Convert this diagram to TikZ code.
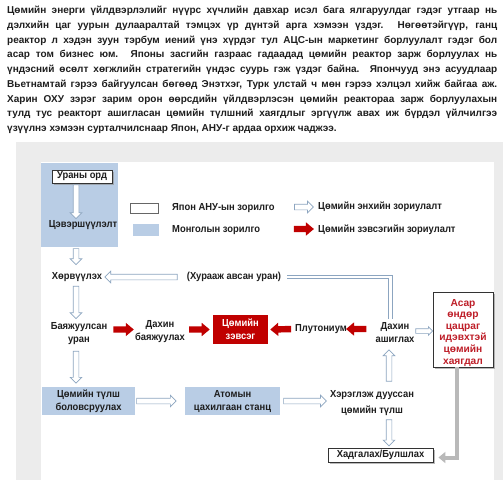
\documentclass[tikz,border=0pt]{standalone}
\usepackage{fontspec}
\setmainfont{Liberation Sans}
\newfontfamily\dfont[FakeStretch=0.92]{Liberation Sans}
\usetikzlibrary{shapes.arrows,shadows,calc,arrows.meta}
\definecolor{framegray}{RGB}{236,236,236}
\definecolor{bluec}{RGB}{185,205,229}
\definecolor{hline}{RGB}{140,165,192}
\definecolor{redc}{RGB}{192,0,0}
\definecolor{redt}{RGB}{190,30,40}
\definecolor{txt}{RGB}{30,30,30}
\newcommand\harrow[4]{%
  \path let \p1=(#3), \p2=(#4), \n1={atan2(\y2-\y1,\x2-\x1)}, \n2={veclen(\x2-\x1,\y2-\y1)} in
    node[#1, rotate=\n1, minimum height=\n2] (#2) at ($(\p1)!0.5!(\p2)$) {};}
\begin{document}
\begin{tikzpicture}[x=1pt,y=-1pt,
  dtext/.style={font=\dfont\bfseries\fontsize{10.2}{13}\selectfont, inner sep=0pt, align=center, text=txt},
  ptext/.style={font=\bfseries\fontsize{10}{11}\selectfont, inner sep=0pt, anchor=base west, text=txt},
  harrowsty/.style={single arrow, draw=hline, fill=white, line width=0.7pt, minimum width=0pt, text height=5pt, text depth=0pt, single arrow head extend=3pt, single arrow tip angle=90, inner sep=0pt},
  rarrowsty/.style={single arrow, fill=redc, draw=none, minimum width=0pt, text height=6pt, text depth=0pt, single arrow head extend=3.5pt, single arrow tip angle=80, inner sep=0pt},
  bluebox/.style={fill=bluec, inner sep=0pt},
  dline/.style={draw=hline, double=white, double distance=2.5pt, line width=0.8pt},
  gline/.style={draw=gray!55, line width=4pt, -{Triangle[length=7pt,width=11pt]}},
  shbox/.style={draw=black!80, line width=0.9pt, fill=white, inner sep=0pt, drop shadow={shadow xshift=1.5pt, shadow yshift=-1.5pt, fill=black!45, opacity=0.6}}
]
\useasboundingbox (0,0) rectangle (503,480);
\fill[white] (0,0) rectangle (503,480);
% paragraph
\node[ptext] (p1) at (7,13.5) {\makebox[490pt][s]{Цөмийн энерги үйлдвэрлэлийг нүүрс хүчлийн давхар исэл бага ялгаруулдаг гэдэг утгаар нь}};
\node[ptext] (p2) at (7,28.25) {\makebox[490pt][s]{дэлхийн цаг уурын дулааралтай тэмцэх үр дүнтэй арга хэмээн үздэг. Нөгөөтэйгүүр, ганц}};
\node[ptext] (p3) at (7,43) {\makebox[490pt][s]{реактор л хэдэн зуун тэрбум иений үнэ хүрдэг тул АЦС-ын маркетинг борлуулалт гэдэг бол}};
\node[ptext] (p4) at (7,57.75) {\makebox[490pt][s]{асар том бизнес юм. Японы засгийн газраас гадаадад цөмийн реактор зарж борлуулах нь}};
\node[ptext] (p5) at (7,72.5) {\makebox[490pt][s]{үндэсний өсөлт хөгжлийн стратегийн үндэс суурь гэж үздэг байна. Япончууд энэ асуудлаар}};
\node[ptext] (p6) at (7,87.25) {\makebox[490pt][s]{Вьетнамтай гэрээ байгуулсан бөгөөд Энэтхэг, Турк улстай ч мөн гэрээ хэлцэл хийж байгаа аж.}};
\node[ptext] (p7) at (7,102) {\makebox[490pt][s]{Харин ОХУ зэрэг зарим орон өөрсдийн үйлдвэрлэсэн цөмийн реактораа зарж борлуулахын}};
\node[ptext] (p8) at (7,116.75) {\makebox[490pt][s]{тулд тус реакторт ашигласан цөмийн түлшний хаягдлыг эргүүлж авах иж бүрдэл үйлчилгээ}};
\node[ptext] (p9) at (7,131.5) {үзүүлнэ хэмээн сурталчилснаар Япон, АНУ-г ардаа орхиж чаджээ.};
% frame
\fill[framegray] (16,142) rectangle (503,480);
\fill[white] (41,162) rectangle (494,480);
\coordinate (colA) at (76,0);
\coordinate (colB) at (389,0);
% Mongolian box
\node[bluebox, minimum width=77pt, minimum height=84pt] (mgbox) at (79.5,205) {};
\node[shbox, minimum width=60pt, minimum height=13pt, dtext] (ore) at (82,176.5) {Ураны орд};
\node[dtext] (pur) at (83,225) {Цэвэршүүлэлт};
% legend
\node[draw=black!60, fill=white, line width=0.8pt, minimum width=28pt, minimum height=10pt, inner sep=0pt] (lgw) at (144,208) {};
\node[bluebox, minimum width=26pt, minimum height=12pt] (lgb) at (146,230) {};
\node[dtext, anchor=west] (lgwt) at (172,208) {Япон АНУ-ын зорилго};
\node[dtext, anchor=west] (lgbt) at (172,230.5) {Монголын зорилго};
\coordinate (la1) at (293,207);
\coordinate (la2) at (312,207);
\coordinate (lr1) at (292,229);
\coordinate (lr2) at (312,229);
\harrow{harrowsty}{lgha}{la1}{la2}
\harrow{rarrowsty}{lgra}{lr1}{lr2}
\node[dtext, anchor=west] (lgat) at (318,207) {Цөмийн энхийн зориулалт};
\node[dtext, anchor=west] (lgrt) at (318,229.5) {Цөмийн зэвсэгийн зориулалт};
% main nodes
\node[dtext] (conv) at (77,277) {Хөрвүүлэх};
\node[dtext] (conf) at (234,277) {(Хурааж авсан уран)};
\node[dtext] (enr) at (79,333.5) {Баяжуулсан\\уран};
\node[dtext] (reenr) at (160,331.5) {Дахин\\баяжуулах};
\node[fill=redc, minimum width=55pt, minimum height=29pt, inner sep=0pt, dtext, text=white] (weapon) at (240.5,329.5) {Цөмийн\\зэвсэг};
\node[dtext] (plut) at (321,329) {Плутониум};
\node[dtext] (reuse) at (395,333) {Дахин\\ашиглах};
\node[shbox, minimum width=60pt, minimum height=75pt] (waste) at (463,329.5) {};
\node[inner sep=0pt, text=redt, align=center, font=\bfseries\fontsize{10.2}{11.6}\selectfont] (wastet) at (463,332.5) {Асар\\өндөр\\цацраг\\идэвхтэй\\цөмийн\\хаягдал};
\node[bluebox, minimum width=93pt, minimum height=28pt, dtext] (fuel) at (88.5,401) {Цөмийн түлш\\боловсруулах};
\node[bluebox, minimum width=95pt, minimum height=28pt, dtext] (npp) at (232.5,401) {Атомын\\цахилгаан станц};
\node[dtext, font=\dfont\bfseries\fontsize{10.2}{16}\selectfont] (spent) at (372,403.5) {Хэрэглэж дууссан\\цөмийн түлш};
\node[shbox, minimum width=105pt, minimum height=14pt, dtext] (store) at (380.5,455) {Хадгалах/Булшлах};
% hollow arrows
\harrow{harrowsty}{a1}{$(ore.south -| colA)$}{$(pur.north -| colA)+(0,-3)$}
\harrow{harrowsty}{a2}{$(mgbox.south -| colA)$}{$(conv.north -| colA)+(0,-9)$}
\harrow{harrowsty}{a3}{$(conf.west)+(-8,0)$}{$(conv.east)+(4,0)$}
\harrow{harrowsty}{a4}{$(conv.south -| colA)+(0,3)$}{$(enr.north -| colA)+(0,-5)$}
\harrow{harrowsty}{a5}{$(enr.south -| colA)+(0,5)$}{$(fuel.north -| colA)+(0,-5)$}
\harrow{harrowsty}{a6}{fuel.east}{$(npp.west)+(-10,0)$}
\harrow{harrowsty}{a7}{$(npp.east)+(2,0)$}{$(npp.east -| spent.west)+(-5,0)$}
\harrow{harrowsty}{a8}{$(spent.north -| colB)+(0,-8)$}{$(reuse.south -| colB)+(0,8)$}
\harrow{harrowsty}{a9}{$(spent.south -| colB)+(0,2)$}{$(store.north -| colB)+(0,-3)$}
\harrow{harrowsty, text height=4pt, single arrow head extend=2pt}{a10}{$(reuse.east)+(0,-2)$}{$(reuse.east -| waste.west)+(-1,-2)$}
% red arrows
\harrow{rarrowsty}{r1}{$(enr.east |- weapon.west)+(4,0)$}{$(reenr.west |- weapon.west)+(-3,0)$}
\harrow{rarrowsty}{r2}{$(reenr.east |- weapon.west)+(2,0)$}{$(weapon.west)+(-5,0)$}
\harrow{rarrowsty}{r3}{$(plut.west)+(-2,0)$}{$(weapon.east)+(4,0)$}
\harrow{rarrowsty}{r4}{$(reuse.west |- plut.west)+(-7,0)$}{$(plut.east)+(1,0)$}
% double connectors
\coordinate (dl1) at ($(conf.east)+(6,0)$);
\coordinate (dl2) at ($(reuse.north)+(-4.5,-4)$);
\coordinate (dlc) at (dl2 |- dl1);
\draw[dline] (dl1) -- (dlc) -- (dl2);
\draw[gline] ([xshift=-6.5pt]waste.south) |- ([yshift=-2.5pt,xshift=5pt]store.east);
\end{tikzpicture}
\end{document}
